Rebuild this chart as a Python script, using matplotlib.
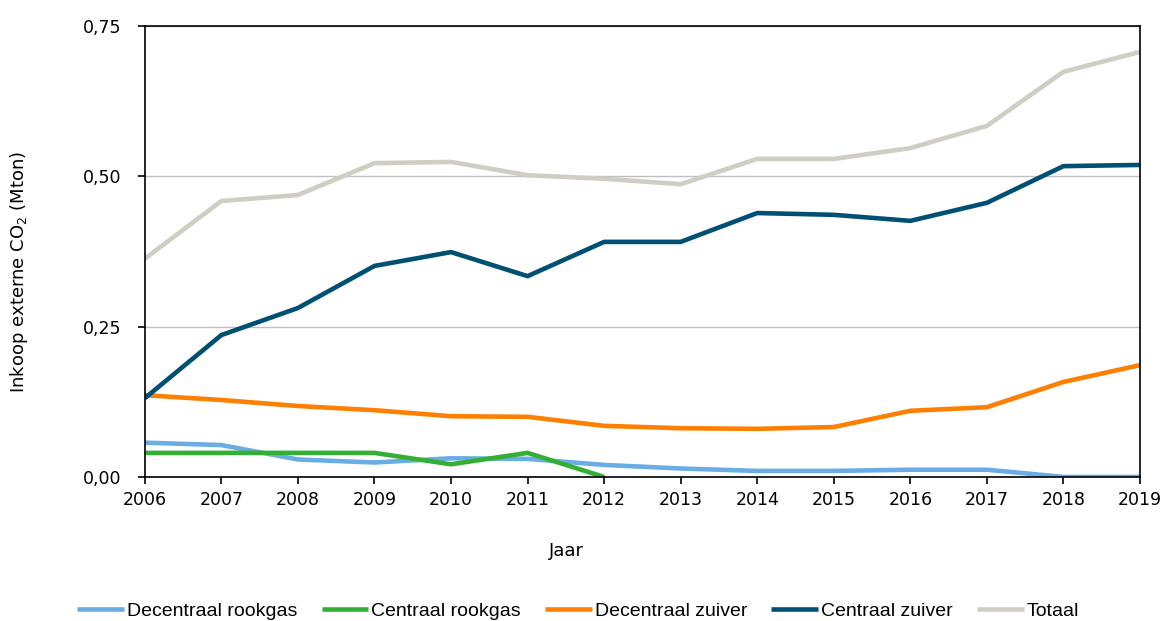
import matplotlib.pyplot as plt
import numpy as np

# data
jaren = np.arange(2006, 2020)
decentraal_rookgas = [0.057, 0.053, 0.029, 0.024, 0.031, 0.030, 0.020, 0.014, 0.010, 0.010, 0.012, 0.012, 0.0, 0.0]
centraal_rookgas = [0.040, 0.040, 0.040, 0.040, 0.021, 0.040, 0.0] + [np.nan] * 7
decentraal_zuiver = [0.136, 0.128, 0.118, 0.111, 0.101, 0.100, 0.085, 0.081, 0.080, 0.083, 0.110, 0.116, 0.158, 0.186]
centraal_zuiver = [0.131, 0.236, 0.281, 0.351, 0.374, 0.334, 0.391, 0.391, 0.439, 0.436, 0.426, 0.456, 0.517, 0.519]
totaal = [0.363, 0.459, 0.469, 0.522, 0.524, 0.502, 0.496, 0.487, 0.529, 0.529, 0.547, 0.584, 0.674, 0.707]

reeksen = [
    ("Decentraal rookgas", decentraal_rookgas, "#6aade4"),
    ("Centraal rookgas", centraal_rookgas, "#33b033"),
    ("Decentraal zuiver", decentraal_zuiver, "#ff7f00"),
    ("Centraal zuiver", centraal_zuiver, "#005073"),
    ("Totaal", totaal, "#cfcdc4"),
]

plt.rcParams['font.family'] = ['DejaVu Sans']

fig, ax = plt.subplots(figsize=(11.68, 6.21), dpi=100)
fig.subplots_adjust(left=0.124, right=0.976, top=0.958, bottom=0.232)

for naam, waarden, kleur in reeksen:
    ax.plot(jaren, waarden, color=kleur, lw=3.3, label=naam, solid_capstyle="butt")

ax.set_xlim(2006, 2019)
ax.set_ylim(0, 0.75)
ax.set_xticks(jaren)
ax.set_yticks([0, 0.25, 0.5, 0.75])
ax.set_yticklabels(["0,00", "0,25", "0,50", "0,75"])
ax.tick_params(labelsize=12.5, length=5, width=1.2)
ax.tick_params(axis="y", pad=12)
ax.tick_params(axis="x", pad=5)
ax.grid(axis="y", color="#c0c0c0", lw=1)
ax.set_axisbelow(True)
for s in ax.spines.values():
    s.set_linewidth(1.2)
    s.set_color("black")

ax.set_ylabel("Inkoop externe CO$_2$ (Mton)", fontsize=13)
ax.yaxis.set_label_coords(-0.115, 0.455)
ax.set_xlabel("Jaar", fontsize=13)
ax.xaxis.set_label_coords(0.424, -0.145)

fig.legend(loc="center", bbox_to_anchor=(0.495, 0.016), ncol=5, frameon=False,
           handlelength=2.4, handletextpad=0.15, columnspacing=1.25,
           prop={'family': ['Liberation Sans', 'DejaVu Sans'], 'size': 14})

plt.savefig("out.png", dpi=100)
